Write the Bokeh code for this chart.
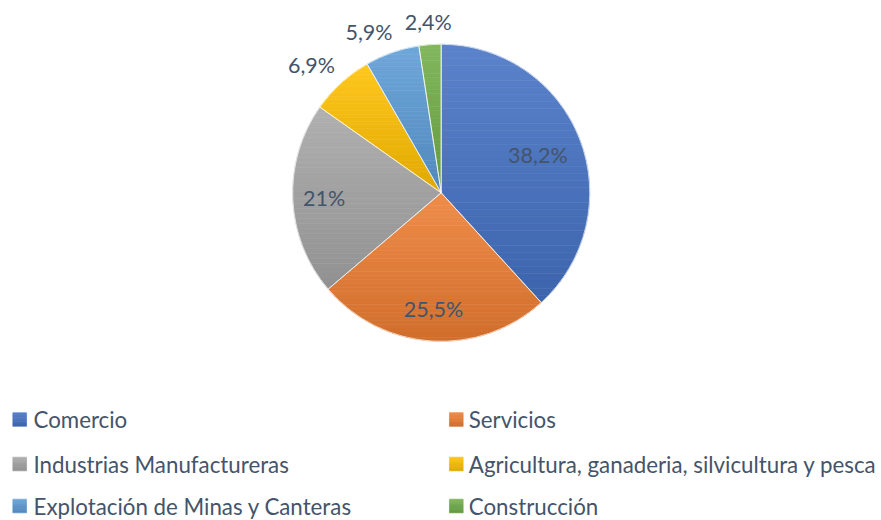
import numpy as np
from bokeh.plotting import figure
from bokeh.models import Range1d
from bokeh.embed import file_html
from bokeh.resources import INLINE
from bokeh.core.properties import value

# ---- data ----
categories = ["Comercio", "Servicios", "Industrias Manufactureras",
              "Agricultura, ganaderia, silvicultura y pesca",
              "Explotación de Minas y Canteras", "Construcción"]
shares = [38.2, 25.5, 21.0, 6.9, 5.9, 2.4]
labels = ["38,2%", "25,5%", "21%", "6,9%", "5,9%", "2,4%"]
colors = ["#4472C4", "#ED7D31", "#A5A5A5", "#FFC000", "#5B9BD5", "#70AD47"]

# ---- layout / style ----
W, H = 881, 520
FONT = "Lato"
TEXT_COLOR = "#44546A"
LABEL_SIZE = 21.5
LEGEND_SIZE = 22.3
# small pixel nudges of data labels (best-fit placement, like the original)
LABEL_NUDGE = {"25,5%": (0, 5), "6,9%": (-7, -7), "5,9%": (-14, -6)}

p = figure(width=W, height=H, x_range=Range1d(0, W), y_range=Range1d(0, H),
           output_backend="svg", toolbar_location=None, min_border=0)
p.axis.visible = False
p.grid.visible = False
p.outline_line_color = None
p.background_fill_color = "white"
p.border_fill_color = "white"


def sy(y_screen):
    # screen-pixel row -> plot y
    return H - y_screen


cx, cy, R = 440.7, sy(192.3), 148.5

total = float(sum(shares))
frac = np.array(shares) / total
cum = np.concatenate([[0.0], np.cumsum(frac)])
start = np.pi / 2 - 2 * np.pi * cum[:-1]
end = np.pi / 2 - 2 * np.pi * cum[1:]


def hex2rgb(h):
    h = h.lstrip("#")
    return np.array([int(h[i:i + 2], 16) for i in (0, 2, 4)], dtype=float)


def rgb2hex(c):
    c = np.clip(np.round(c), 0, 255).astype(int)
    return "#%02x%02x%02x" % tuple(c)


def shades(h):
    b = hex2rgb(h)
    light = b + (255 - b) * 0.12
    dark = b * 0.88
    return light, dark


def clip(poly, yv, keep_above):
    out = []
    n = len(poly)
    for i in range(n):
        a = poly[i]
        b = poly[(i + 1) % n]
        ina = a[1] >= yv if keep_above else a[1] <= yv
        inb = b[1] >= yv if keep_above else b[1] <= yv
        if ina:
            out.append(a)
        if ina != inb:
            t = (yv - a[1]) / (b[1] - a[1])
            out.append((a[0] + t * (b[0] - a[0]), yv))
    return out


band_xs, band_ys, band_cols = [], [], []
NB = 36
for i in range(len(shares)):
    n = max(6, int(abs(start[i] - end[i]) * 180 / np.pi))
    ang = np.linspace(start[i], end[i], n)
    poly = [(cx, cy)] + [(cx + R * np.cos(a), cy + R * np.sin(a)) for a in ang]
    ys_ = [q[1] for q in poly]
    ytop, ybot = max(ys_), min(ys_)
    light, dark = shades(colors[i])
    edges = np.linspace(ytop, ybot, NB + 1)
    for k in range(NB):
        y_hi, y_lo = edges[k], edges[k + 1]
        pc = clip(poly, y_lo, True)
        if len(pc) < 3:
            continue
        pc = clip(pc, y_hi, False)
        if len(pc) < 3:
            continue
        t = (k + 0.5) / NB
        col = rgb2hex(light * (1 - t) + dark * t)
        band_xs.append([q[0] for q in pc])
        band_ys.append([q[1] for q in pc])
        band_cols.append(col)

p.patches(band_xs, band_ys, fill_color=band_cols, line_color=band_cols, line_width=0.6)

# slice separators
p.wedge(x=cx, y=cy, radius=R, start_angle=list(end), end_angle=list(start),
        fill_alpha=0, line_color="white", line_width=0.8, line_alpha=0.8)

# data labels
char_w = LABEL_SIZE * 0.55
hh = LABEL_SIZE * 0.55
lx, ly = [], []
for i in range(len(shares)):
    m = (start[i] + end[i]) / 2
    hw = len(labels[i]) * char_w / 2
    support = hw * abs(np.cos(m)) + hh * abs(np.sin(m))
    if frac[i] > 0.1:
        d = R - 13 - support
    else:
        d = R + 9 + support
    nx, ny = LABEL_NUDGE.get(labels[i], (0, 0))
    lx.append(cx + d * np.cos(m) + nx)
    ly.append(cy + d * np.sin(m) + ny)
p.text(x=lx, y=ly, text=labels, text_align="center", text_baseline="middle",
       text_font=value(FONT), text_font_size=f"{LABEL_SIZE}px", text_color=TEXT_COLOR)

# legend (two columns, row-major)
col_sq_x = [19.2, 455.8]
col_tx_x = [33, 468.3]
row_y = [sy(419), sy(463.5), sy(505.5)]
SQ = 13.7
sq_xs, sq_ys, sq_cols = [], [], []
for i, name in enumerate(categories):
    r, c = divmod(i, 2)
    light, dark = shades(colors[i])
    nb = 6
    x0, x1 = col_sq_x[c] - SQ / 2, col_sq_x[c] + SQ / 2
    for k in range(nb):
        t = (k + 0.5) / nb
        y_hi = row_y[r] + SQ / 2 - SQ * k / nb
        y_lo = row_y[r] + SQ / 2 - SQ * (k + 1) / nb
        sq_xs.append([x0, x1, x1, x0])
        sq_ys.append([y_hi, y_hi, y_lo, y_lo])
        sq_cols.append(rgb2hex(light * (1 - t) + dark * t))
    p.text(x=[col_tx_x[c]], y=[row_y[r]], text=[name], text_align="left",
           text_baseline="middle", text_font=value(FONT),
           text_font_size=f"{LEGEND_SIZE}px", text_color=TEXT_COLOR)
p.patches(sq_xs, sq_ys, fill_color=sq_cols, line_color=sq_cols, line_width=0.6)

open("out.html", "w").write(file_html(p, INLINE))
